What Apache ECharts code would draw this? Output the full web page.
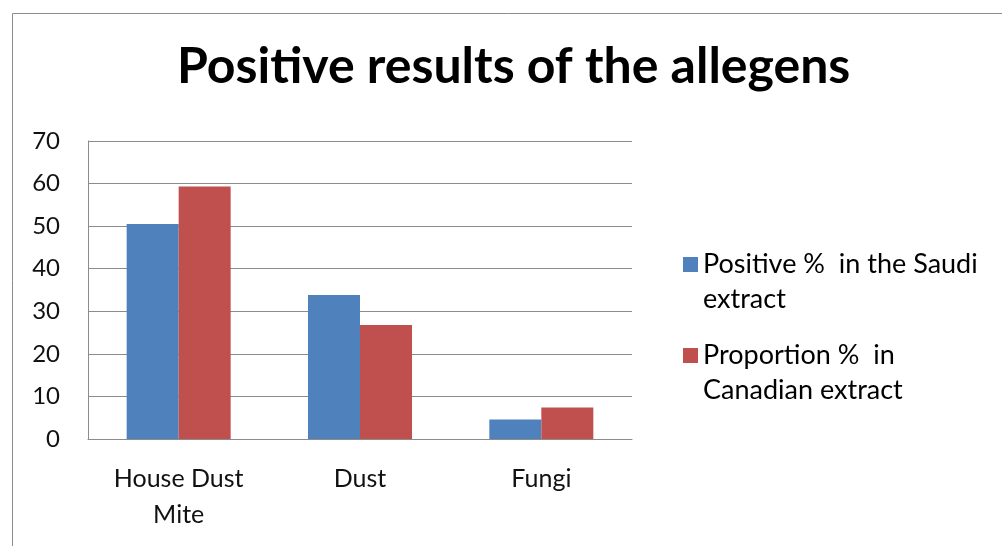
<!DOCTYPE html>
<html><head><meta charset="utf-8">
<script src="https://cdn.jsdelivr.net/npm/echarts@6/dist/echarts.min.js"></script>
<style>html,body{margin:0;padding:0;background:#fff}#c{width:1002px;height:546px}</style>
</head><body><div id="c"></div>
<script>
const categories = ['House Dust\nMite', 'Dust', 'Fungi'];
const saudi = [50.5, 33.8, 4.6];
const canadian = [59.3, 26.8, 7.4];
const seriesNames = ['Positive %  in the Saudi extract', 'Proportion %  in Canadian extract'];
const legendLabels = ['Positive %  in the Saudi\nextract', 'Proportion %  in\nCanadian extract'];
const yTicks = {min: 0, max: 70, interval: 10};

const chart = echarts.init(document.getElementById('c'));
const FONT = 'Lato, "Open Sans", sans-serif';
chart.setOption({
  animation: false,
  backgroundColor: '#fff',
  graphic: [{type: 'rect', shape: {x: 12.5, y: 13.5, width: 1000, height: 600}, style: {fill: 'none', stroke: '#8c8c8c', lineWidth: 1}}],
  title: {text: 'Positive results of the allegens', left: 177, top: 42, padding: 0,
    textStyle: {fontFamily: FONT, fontWeight: 'bold', fontSize: 50, color: '#000'}},
  grid: {left: 88, right: 370, top: 141, bottom: 107},
  legend: {orient: 'vertical', left: 683, top: 212, padding: 0, itemWidth: 15, itemHeight: 15, itemGap: -14,
    icon: 'rect',
    formatter: function (n) { return '\n' + legendLabels[seriesNames.indexOf(n)]; },
    textStyle: {fontFamily: FONT, fontSize: 27, color: '#000', lineHeight: 35}},
  xAxis: {type: 'category', data: categories,
    axisLine: {lineStyle: {color: '#8c8c8c', width: 1}}, axisTick: {show: false},
    axisLabel: {fontFamily: FONT, fontSize: 25, color: '#111', margin: 22, lineHeight: 36, interval: 0}},
  yAxis: {type: 'value', min: yTicks.min, max: yTicks.max, interval: yTicks.interval,
    axisLine: {show: true, lineStyle: {color: '#8c8c8c', width: 1}}, axisTick: {show: false},
    splitLine: {lineStyle: {color: '#8c8c8c', width: 1}},
    axisLabel: {fontFamily: FONT, fontSize: 24, color: '#111', margin: 28}},
  series: [
    {name: seriesNames[0], type: 'bar', data: saudi, barWidth: 52, barGap: '0%', itemStyle: {color: '#4F81BD'}},
    {name: seriesNames[1], type: 'bar', data: canadian, barWidth: 52, barGap: '0%', itemStyle: {color: '#C0504D'}}
  ]
});
</script></body></html>
